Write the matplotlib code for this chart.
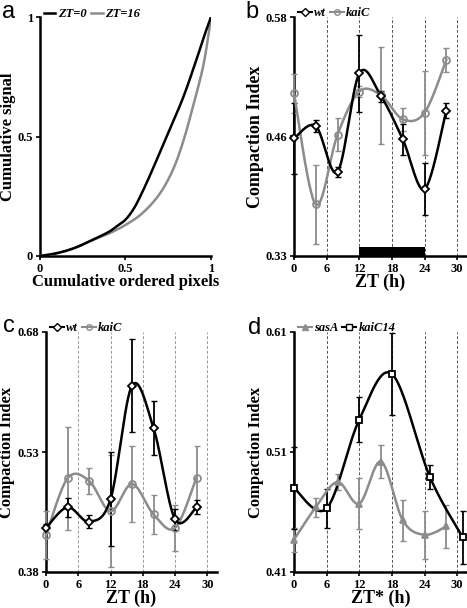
import numpy as np
import matplotlib
matplotlib.use('Agg')
import matplotlib.pyplot as plt

# ---------------- data ----------------
# panel a: cumulative (Lorenz-like) curves
a_zt0_x = [0, 0.1, 0.2, 0.3, 0.4, 0.45, 0.5, 0.55, 0.6, 0.66, 0.74, 0.83, 0.9, 0.96, 1.0]
a_zt0_y = [0, 0.012, 0.033, 0.065, 0.1, 0.125, 0.152, 0.2, 0.27, 0.365, 0.5, 0.65, 0.79, 0.92, 1.0]
a_zt16_x = [0, 0.1, 0.2, 0.3, 0.4, 0.5, 0.6, 0.7, 0.78, 0.842, 0.9, 0.95, 0.98, 1.0]
a_zt16_y = [0, 0.012, 0.033, 0.064, 0.093, 0.13, 0.18, 0.26, 0.365, 0.49, 0.64, 0.78, 0.9, 1.0]

# panel b
b_zt = [0, 4, 8, 12, 16, 20, 24, 28]
b_wt = [0.453, 0.466, 0.418, 0.521, 0.497, 0.452, 0.400, 0.482]
b_wt_err = [0.037, 0.006, 0.005, 0.040, 0.006, 0.016, 0.027, 0.008]
b_kaic = [0.500, 0.384, 0.457, 0.502, 0.498, 0.473, 0.480, 0.535]
b_kaic_err = [0.020, 0.041, 0.017, 0.006, 0.051, 0.012, 0.044, 0.013]
b_night = [12, 24]

# panel c
c_zt = [0, 4, 8, 12, 16, 20, 24, 28]
c_wt = [0.435, 0.461, 0.443, 0.471, 0.613, 0.560, 0.446, 0.461]
c_wt_err = [0.005, 0.012, 0.008, 0.059, 0.058, 0.034, 0.013, 0.009]
c_kaic = [0.426, 0.497, 0.494, 0.456, 0.490, 0.452, 0.435, 0.498]
c_kaic_err = [0.030, 0.064, 0.016, 0.070, 0.048, 0.024, 0.029, 0.039]

# panel d
d_sasa_zt = [0, 4, 8, 12, 16, 20, 24, 28]
d_sasa = [0.437, 0.464, 0.485, 0.467, 0.502, 0.453, 0.441, 0.448]
d_sasa_err = [0.010, 0.008, 0.007, 0.021, 0.014, 0.017, 0.020, 0.018]
d_kaic14_zt = [0, 6, 12, 18, 25, 31]
d_kaic14 = [0.480, 0.463, 0.537, 0.575, 0.489, 0.439]
d_kaic14_err = [0.034, 0.016, 0.019, 0.034, 0.010, 0.022]

zt_ticks = [0, 6, 12, 18, 24, 30]
grid_lines = [6, 12, 18, 24, 30]

# ---------------- helpers ----------------
SERIF = ['Liberation Serif', 'DejaVu Serif']
SANS = ['Liberation Sans', 'DejaVu Sans']
GREY = '#8c8c8c'


def smooth(x, y, n=30):
    pts = np.column_stack([x, y]).astype(float)
    P = np.vstack([pts[0], pts, pts[-1]])
    out = []
    for i in range(1, len(P) - 2):
        p0, p1, p2, p3 = P[i - 1], P[i], P[i + 1], P[i + 2]
        c1 = p1 + (p2 - p0) / 6.0
        c2 = p2 - (p3 - p1) / 6.0
        t = np.linspace(0, 1, n)[:, None]
        seg = (1 - t) ** 3 * p1 + 3 * (1 - t) ** 2 * t * c1 + 3 * (1 - t) * t ** 2 * c2 + t ** 3 * p2
        out.append(seg if i == 1 else seg[1:])
    s = np.vstack(out)
    return s[:, 0], s[:, 1]


def style_axes(ax, ylo, yhi, ylabels, xlabel, ylabel, xls=13, yls=13):
    for s in ['top', 'right']:
        ax.spines[s].set_visible(False)
    for s in ['left', 'bottom']:
        ax.spines[s].set_linewidth(1.8)
    ax.set_ylim(ylo, yhi)
    ax.set_yticks([ylo, (ylo + yhi) / 2, yhi])
    ax.set_yticklabels(ylabels)
    ax.tick_params(axis='both', direction='out', length=3, width=1.2, pad=2,
                   labelsize=9)
    for lab in ax.get_xticklabels() + ax.get_yticklabels():
        lab.set_family(SERIF)
        lab.set_weight('bold')
    ax.set_xlabel(xlabel, family=SERIF, weight='bold', fontsize=xls, labelpad=-1)
    ax.set_ylabel(ylabel, family=SERIF, weight='bold', fontsize=yls, labelpad=1)


def series(ax, x, y, err, color, marker, mfc, label, ms=5):
    ax.errorbar(x, y, yerr=err, fmt='none', ecolor=color, elinewidth=1.3,
                capsize=2, capthick=1.0, zorder=3, clip_on=False)
    sx, sy = smooth(x, y)
    ax.plot(sx, sy, color=color, lw=1.8, zorder=4, clip_on=False)
    ax.plot(x, y, linestyle='none', marker=marker, ms=ms, mfc=mfc, mec=color,
            mew=1.3, zorder=5, clip_on=False)
    return ax.plot([], [], color=color, lw=1.5, marker=marker, ms=4, mfc=mfc,
                   mec=color, mew=1.0, label=label)[0]


def vgrid(ax, color):
    for g in grid_lines:
        ax.axvline(g, color=color, lw=0.7, ls=(0, (3, 2)), zorder=1)


LEG = {'family': SERIF, 'weight': 'bold', 'style': 'italic', 'size': 9}

W, H = 467, 608
fig = plt.figure(figsize=(W / 100, H / 100), dpi=100)

# ---------------- panel a ----------------
axa = fig.add_axes([40 / W, (H - 256) / H, 171 / W, 239 / H])
sx, sy = smooth(a_zt0_x, a_zt0_y)
l1, = axa.plot(sx, sy, color='black', lw=1.8, label='ZT=0', zorder=4)
sx, sy = smooth(a_zt16_x, a_zt16_y)
l2, = axa.plot(sx, sy, color=GREY, lw=1.8, label='ZT=16', zorder=3)
axa.set_xlim(0, 1)
axa.set_xticks([0, 0.5, 1])
axa.set_xticklabels(['0', '0.5', '1'])
style_axes(axa, 0, 1, ['0', '0.5', '1'], 'Cumulative ordered pixels', 'Cumulative signal',
           xls=12, yls=12)
axa.legend(handles=[l1, l2], loc='lower left', bbox_to_anchor=(44 / W, (H - 20) / H),
           bbox_transform=fig.transFigure, ncol=2, frameon=False, handlelength=0.9,
           handletextpad=0.2, columnspacing=0.4, borderpad=0, borderaxespad=0, prop=LEG)

# ---------------- panel b ----------------
axb = fig.add_axes([294 / W, (H - 256) / H, 173 / W, 239 / H])
vgrid(axb, '#555555')
axb.fill_between(b_night, [0.33, 0.33], [0.3395, 0.3395], color='black', zorder=6,
                 linewidth=0)
hk = series(axb, b_zt, b_kaic, b_kaic_err, GREY, 'o', 'none', 'kaiC')
hw = series(axb, b_zt, b_wt, b_wt_err, 'black', 'D', 'white', 'wt', ms=4.5)
axb.set_xlim(0, 31.8)
axb.set_xticks(zt_ticks)
style_axes(axb, 0.33, 0.58, ['0.33', '0.46', '0.58'], 'ZT (h)', 'Compaction Index')
axb.legend(handles=[hw, hk], loc='lower left', bbox_to_anchor=(298 / W, (H - 19) / H),
           bbox_transform=fig.transFigure, ncol=2, frameon=False, handlelength=1.1,
           handletextpad=0.2, columnspacing=0.3, borderpad=0, borderaxespad=0, prop=LEG)

# ---------------- panel c ----------------
axc = fig.add_axes([46 / W, (H - 572) / H, 171 / W, 240 / H])
vgrid(axc, '#999999')
hk = series(axc, c_zt, c_kaic, c_kaic_err, GREY, 'o', 'none', 'kaiC')
hw = series(axc, c_zt, c_wt, c_wt_err, 'black', 'D', 'white', 'wt', ms=4.5)
axc.set_xlim(0, 31.8)
axc.set_xticks(zt_ticks)
style_axes(axc, 0.38, 0.68, ['0.38', '0.53', '0.68'], 'ZT (h)', 'Compaction Index', yls=12)
axc.yaxis.set_label_coords(-0.18, 0.5)
axc.legend(handles=[hw, hk], loc='lower left', bbox_to_anchor=(50 / W, (H - 334) / H),
           bbox_transform=fig.transFigure, ncol=2, frameon=False, handlelength=1.1,
           handletextpad=0.2, columnspacing=0.3, borderpad=0, borderaxespad=0, prop=LEG)

# ---------------- panel d ----------------
axd = fig.add_axes([294 / W, (H - 572) / H, 173 / W, 240 / H])
vgrid(axd, '#555555')
hs = series(axd, d_sasa_zt, d_sasa, d_sasa_err, GREY, '^', GREY, 'sasA')
hq = series(axd, d_kaic14_zt, d_kaic14, d_kaic14_err, 'black', 's', 'white', 'kaiC14')
axd.set_xlim(0, 31.8)
axd.set_xticks(zt_ticks)
style_axes(axd, 0.41, 0.61, ['0.41', '0.51', '0.61'], 'ZT* (h)', 'Compaction Index', yls=12)
axd.legend(handles=[hs, hq], loc='lower left', bbox_to_anchor=(298 / W, (H - 334) / H),
           bbox_transform=fig.transFigure, ncol=2, frameon=False, handlelength=1.1,
           handletextpad=0.2, columnspacing=0.3, borderpad=0, borderaxespad=0, prop=LEG)

# ---------------- panel letters ----------------
for txt, x, y in [('a', 2, 18), ('b', 245, 18), ('c', 3, 332), ('d', 248, 334)]:
    fig.text(x / W, 1 - y / H, txt, family=SANS, fontsize=17, va='baseline', ha='left')

fig.savefig('out.png', dpi=100)
